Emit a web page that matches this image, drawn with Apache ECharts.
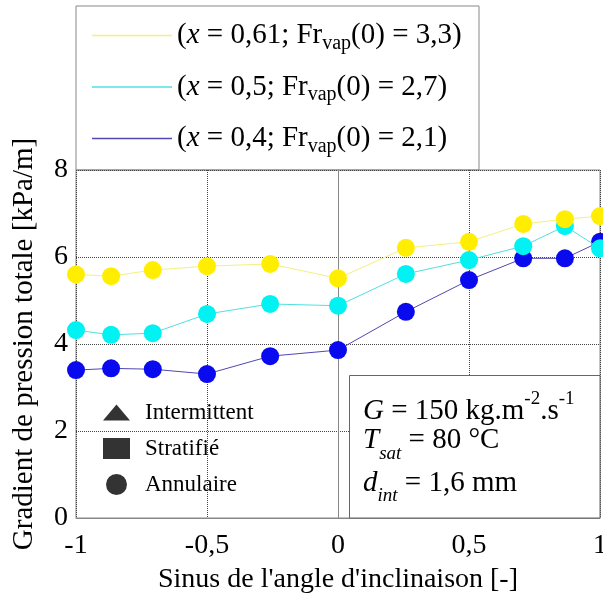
<!DOCTYPE html>
<html><head><meta charset="utf-8">
<script src="https://cdn.jsdelivr.net/npm/echarts@6/dist/echarts.min.js"></script>
<style>html,body{margin:0;padding:0;background:#fff}#c{width:603px;height:594px}</style>
</head><body><div id="c"></div>
<script>
var sinAngle = [-1, -0.866, -0.707, -0.5, -0.259, 0, 0.259, 0.5, 0.707, 0.866, 1];
var dp061 = [5.60, 5.56, 5.70, 5.79, 5.84, 5.51, 6.21, 6.35, 6.76, 6.87, 6.94];
var dp05  = [4.32, 4.21, 4.25, 4.69, 4.92, 4.88, 5.61, 5.93, 6.25, 6.71, 6.20];
var dp04  = [3.40, 3.44, 3.42, 3.31, 3.72, 3.86, 4.74, 5.47, 5.97, 5.97, 6.35];
var xTicks = [-1, -0.5, 0, 0.5, 1];
var yTicks = [0, 2, 4, 6, 8];
var seriesNames = ['s061', 's05', 's04'];
var legendLabels = {
  s061: '({i|x} = 0,61; Fr{sub|vap}(0) = 3,3)',
  s05: '({i|x} = 0,5; Fr{sub|vap}(0) = 2,7)',
  s04: '({i|x} = 0,4; Fr{sub|vap}(0) = 2,1)'
};
var regimes = ['Intermittent', 'Stratifié', 'Annulaire'];
var infoLines = [
  '{gi|G} = 150 kg.m{sup|-2}.s{sup|-1}',
  '{gi|T}{sub|sat} = 80 °C',
  '{gi|d}{sub2|int} = 1,6 mm'
];

function pairs(xs, ys){ return xs.map(function(x,i){ return [x, ys[i]]; }); }
var FONT = 'Liberation Serif';
function fmtNum(v){ return String(v).replace('.', ','); }

var chart = echarts.init(document.getElementById('c'));
var lineColors = ['#f4f080', '#50e0e0', '#5048b0'];
var markColors = ['#ffee00', '#00f2f2', '#0a0aee'];
var dataSets = [dp061, dp05, dp04];

var series = seriesNames.map(function(n, k){
  return {
    name: n, type: 'line', data: pairs(sinAngle, dataSets[k]),
    symbol: 'circle', symbolSize: 18,
    lineStyle: {color: lineColors[k], width: 1},
    itemStyle: {color: markColors[k]},
    z: 3 - k
  };
});
var regimeSymbols = ['path://M0,16L13.5,0L27,16Z', 'rect', 'circle'];
regimes.forEach(function(r, k){
  series.push({name: r, type: 'scatter', data: [], symbol: regimeSymbols[k], itemStyle: {color: '#000'}});
});

var infoRich = {
  gi: {fontFamily: FONT, fontSize: 29, fontStyle: 'italic', fill: '#000', lineHeight: 48},
  sup: {fontFamily: FONT, fontSize: 19, fill: '#000', lineHeight: 20, padding: [0, 0, 23, 0]},
  sub: {fontFamily: FONT, fontSize: 19, fontStyle: 'italic', fill: '#000', lineHeight: 20, padding: [28, 0, 0, 0]},
  sub2: {fontFamily: FONT, fontSize: 19, fontStyle: 'italic', fill: '#000', lineHeight: 20, padding: [26, 0, 0, 0]}
};
var infoTops = [387, 416, 459];
var graphics = [
  {type: 'rect', shape: {x: 76, y: 6, width: 403, height: 164}, style: {fill: 'none', stroke: '#888', lineWidth: 1}, z: 0},
  {type: 'rect', shape: {x: 349.5, y: 375.5, width: 250.5, height: 142.5}, style: {fill: '#fff', stroke: '#666', lineWidth: 1}, z: 10}
];
infoLines.forEach(function(t, k){
  graphics.push({type: 'text', left: 363, top: infoTops[k], z: 11, style: {
    text: t, fontFamily: FONT, fontSize: 29, fill: '#000', lineHeight: 48, rich: infoRich
  }});
});

chart.setOption({
  animation: false,
  backgroundColor: '#fff',
  grid: {left: 76, right: 3, top: 170, bottom: 76, show: true, borderColor: '#888', borderWidth: 1, outerBoundsMode: 'none', containLabel: false},
  xAxis: {
    type: 'value', min: xTicks[0], max: xTicks[xTicks.length-1], interval: 0.5,
    name: "Sinus de l'angle d'inclinaison [-]", nameLocation: 'middle', nameGap: 48,
    nameTextStyle: {fontFamily: FONT, fontSize: 28, color: '#000'},
    axisLine: {lineStyle: {color: '#888'}}, axisTick: {show: false},
    axisLabel: {fontFamily: FONT, fontSize: 28, color: '#000', margin: 14, formatter: fmtNum},
    splitLine: {show: true, lineStyle: {type: 'dotted', color: '#444'}}
  },
  yAxis: {
    type: 'value', min: yTicks[0], max: yTicks[yTicks.length-1], interval: 2,
    name: 'Gradient de pression totale [kPa/m]', nameLocation: 'middle', nameGap: 37, nameRotate: 90,
    nameTextStyle: {fontFamily: FONT, fontSize: 29, color: '#000'},
    axisLine: {show: true, lineStyle: {color: '#888'}}, axisTick: {show: false},
    axisLabel: {fontFamily: FONT, fontSize: 28, color: '#000', margin: 8, formatter: fmtNum},
    splitLine: {show: true, lineStyle: {type: 'dotted', color: '#444'}}
  },
  legend: [{
    orient: 'vertical', left: 87, top: 16, itemGap: 19, itemWidth: 80, itemHeight: 1.5, icon: 'rect',
    selectedMode: false,
    data: seriesNames.map(function(n, k){ return {name: n, itemStyle: {color: lineColors[k]}}; }),
    formatter: function(n){ return legendLabels[n]; },
    textStyle: {fontFamily: FONT, fontSize: 29, color: '#000', padding: 0,
      rich: {i: {fontFamily: FONT, fontSize: 29, fontStyle: 'italic', color: '#000'},
             sub: {fontFamily: FONT, fontSize: 20, color: '#000', padding: [16, 0, 0, 0]}}}
  }, {
    orient: 'vertical', left: 98, top: 396, itemGap: 13, itemWidth: 27, itemHeight: 21,
    symbolKeepAspect: true,
    selectedMode: false, data: regimes,
    textStyle: {fontFamily: FONT, fontSize: 23, color: '#000', padding: [0, 0, 0, 10]}
  }],
  graphic: graphics,
  series: series
});
</script></body></html>
